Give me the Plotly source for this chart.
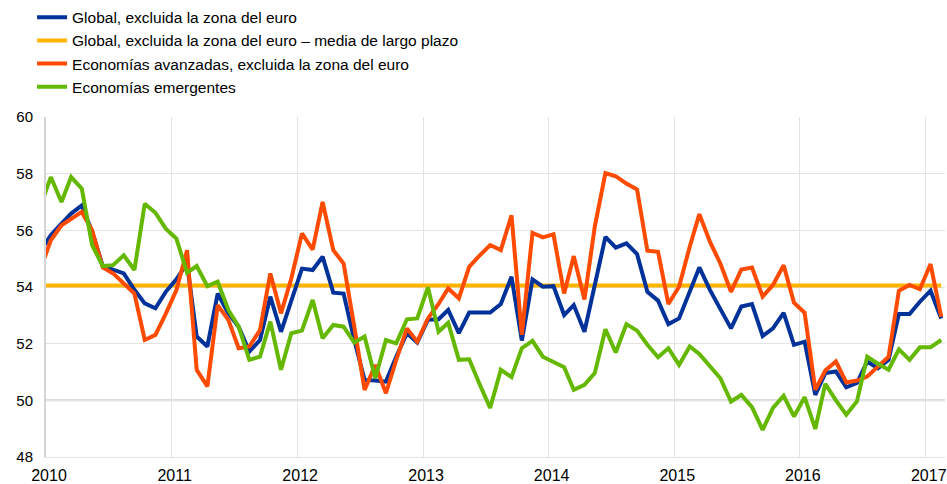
import pandas as pd
import plotly.graph_objects as go

# Monthly observations, Dec 2009 - Feb 2017 (plotted at mid-month)
months = (pd.date_range("2009-12-01", "2017-02-01", freq="MS") + pd.Timedelta(days=14)).strftime("%Y-%m-%d").tolist()

global_ex_euro = [
    55.25,
    55.83, 56.24, 56.59, 56.88, 55.95, 54.74, 54.62, 54.48, 53.90, 53.42, 53.25, 53.83,
    54.27, 54.83, 52.25, 51.90, 53.77, 53.07, 52.60, 51.72, 52.13, 53.66, 52.42, 53.54,
    54.65, 54.60, 55.07, 53.80, 53.77, 52.13, 50.72, 50.70, 50.66, 51.54, 52.37, 52.04,
    52.84, 52.86, 53.19, 52.37, 53.10, 53.10, 53.10, 53.40, 54.36, 52.11, 54.27, 54.01,
    54.03, 53.01, 53.36, 52.42, 54.07, 55.77, 55.39, 55.54, 55.16, 53.83, 53.52, 52.69,
    52.89, 53.80, 54.69, 53.89, 53.25, 52.54, 53.31, 53.40, 52.27, 52.54, 53.09, 51.96,
    52.07, 50.19, 50.96, 51.02, 50.46, 50.61, 51.37, 51.13, 51.43, 53.05, 53.05, 53.48,
    53.87, 52.89,
]

advanced_ex_euro = [
    54.60,
    55.65, 56.18, 56.42, 56.65, 56.00, 54.69, 54.48, 54.13, 53.77, 52.13, 52.31, 53.05,
    53.89, 55.30, 51.08, 50.49, 53.36, 52.84, 51.84, 51.90, 52.48, 54.48, 53.07, 54.30,
    55.89, 55.32, 57.00, 55.30, 54.83, 52.60, 50.37, 51.25, 50.25, 51.43, 52.54, 52.07,
    52.89, 53.40, 53.95, 53.60, 54.71, 55.12, 55.48, 55.30, 56.53, 52.31, 55.91, 55.75,
    55.86, 53.77, 55.09, 53.56, 56.12, 58.02, 57.91, 57.65, 57.44, 55.28, 55.24, 53.40,
    54.01, 55.42, 56.57, 55.59, 54.83, 53.83, 54.62, 54.69, 53.66, 54.07, 54.77, 53.45,
    53.09, 50.37, 51.05, 51.37, 50.63, 50.70, 50.84, 51.19, 51.54, 53.87, 54.07, 53.92,
    54.81, 52.95,
]

emerging = [
    56.83,
    57.88, 57.00, 57.88, 57.47, 55.48, 54.74, 54.77, 55.12, 54.60, 56.94, 56.62, 56.06,
    55.71, 54.50, 54.74, 54.03, 54.19, 53.19, 52.60, 51.43, 51.54, 52.78, 51.08, 52.37,
    52.46, 53.54, 52.19, 52.66, 52.60, 52.04, 52.25, 50.78, 52.13, 52.01, 52.86, 52.89,
    53.99, 52.42, 52.74, 51.43, 51.45, 50.55, 49.73, 51.08, 50.82, 51.84, 52.10, 51.54,
    51.35, 51.17, 50.37, 50.55, 50.96, 52.51, 51.69, 52.69, 52.46, 51.96, 51.52, 51.84,
    51.25, 51.90, 51.64, 51.22, 50.78, 49.96, 50.19, 49.76, 48.96, 49.73, 50.16, 49.43,
    50.11, 48.99, 50.58, 50.00, 49.49, 49.96, 51.54, 51.29, 51.08, 51.80, 51.43, 51.87,
    51.87, 52.13,
]

long_term_mean = 54.05

names = [
    "Global, excluida la zona del euro",
    "Global, excluida la zona del euro – media de largo plazo",
    "Economías avanzadas, excluida la zona del euro",
    "Economías emergentes",
]
colors = ["#003299", "#FFB400", "#FF4B00", "#65B800"]

y_ticks = [48, 50, 52, 54, 56, 58, 60]
x_ticks = ["2010-01-01", "2011-01-01", "2012-01-01", "2013-01-01",
           "2014-01-01", "2015-01-01", "2016-01-01", "2017-01-01"]
x_tick_labels = ["2010", "2011", "2012", "2013", "2014", "2015", "2016", "2017"]

fig = go.Figure()
fig.add_trace(go.Scatter(x=months, y=[long_term_mean] * len(months), name=names[1],
                         mode="lines", line=dict(color=colors[1], width=4), legendrank=2))
fig.add_trace(go.Scatter(x=months, y=global_ex_euro, name=names[0],
                         mode="lines", line=dict(color=colors[0], width=4), legendrank=1))
fig.add_trace(go.Scatter(x=months, y=advanced_ex_euro, name=names[2],
                         mode="lines", line=dict(color=colors[2], width=4), legendrank=3))
fig.add_trace(go.Scatter(x=months, y=emerging, name=names[3],
                         mode="lines", line=dict(color=colors[3], width=4), legendrank=4))

fig.add_shape(type="line", xref="paper", x0=0, x1=1, yref="y", y0=50, y1=50,
              line=dict(color="#d0d0d0", width=2), layer="below")

fig.update_layout(
    width=947, height=484,
    margin=dict(l=46, r=0, t=117, b=27),
    paper_bgcolor="white", plot_bgcolor="white",
    font=dict(family="Arial, Liberation Sans, sans-serif", size=15, color="#000000"),
    showlegend=True,
    legend=dict(x=-0.0155, y=1.342, xanchor="left", yanchor="top",
                itemwidth=30, tracegroupgap=0, bgcolor="rgba(0,0,0,0)",
                font=dict(size=15.5)),
    xaxis=dict(range=["2010-01-01", "2017-02-26"], tickvals=x_ticks, ticktext=x_tick_labels,
               tickfont=dict(size=16), ticklabelshift=3, ticklabeloverflow="allow",
               showgrid=True, gridcolor="#e3e3e3", gridwidth=1,
               showline=True, linecolor="#e3e3e3", linewidth=1,
               ticks="", ticklabelstandoff=4, zeroline=False),
    yaxis=dict(range=[48, 60], tickvals=y_ticks, tickfont=dict(size=15),
               showgrid=True, gridcolor="#e3e3e3", gridwidth=1,
               showline=True, linecolor="#d4d4d4", linewidth=2,
               ticks="", ticklabelstandoff=8, zeroline=False),
)

fig.write_html("out.html", config={"displayModeBar": False},
               post_script="document.body.style.margin='0';")
